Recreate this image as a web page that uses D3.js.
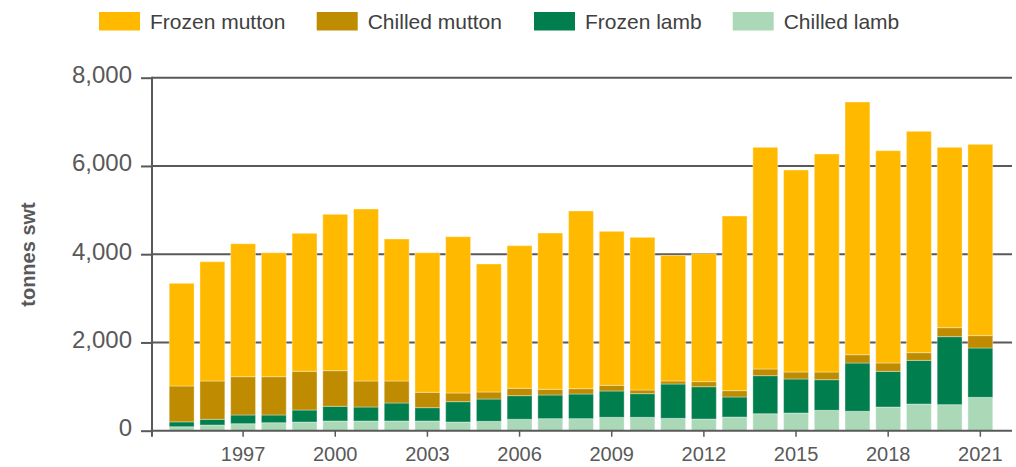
<!DOCTYPE html>
<html>
<head>
<meta charset="utf-8">
<script src="https://cdn.jsdelivr.net/npm/d3@7"></script>
<style>
  html, body { margin: 0; padding: 0; background: #fff; }
  svg { display: block; font-family: "Liberation Sans", Arial, sans-serif; }
</style>
</head>
<body>
<svg id="chart" width="1016" height="467"></svg>
<script>
const years = [1995,1996,1997,1998,1999,2000,2001,2002,2003,2004,2005,2006,2007,2008,2009,2010,2011,2012,2013,2014,2015,2016,2017,2018,2019,2020,2021];
const chilledLamb   = [90,129,159,181,197,220,220,220,220,197,212,258,273,273,303,303,280,265,310,385,401,462,440,537,605,590,756];
const frozenLamb    = [110,129,197,175,272,333,317,408,302,461,506,536,536,559,597,536,778,732,454,862,771,694,1094,808,989,1541,1118];
const chilledMutton = [813,868,868,868,876,807,589,498,348,196,159,166,128,120,128,83,68,114,143,151,158,174,188,189,174,204,280];
const frozenMutton  = [2327,2704,3014,2810,3128,3544,3898,3219,3164,3543,2901,3233,3543,4027,3490,3460,2849,2901,3959,5024,4578,4941,5727,4812,5017,4087,4336];
const seriesNames = ["Chilled lamb","Frozen lamb","Chilled mutton","Frozen mutton"];
const legendOrder = ["Frozen mutton","Chilled mutton","Frozen lamb","Chilled lamb"];
const colors = {"Frozen mutton":"#FFBA00","Chilled mutton":"#BF8B00","Frozen lamb":"#007E4E","Chilled lamb":"#ABD9B8"};
const yTicks = [0,2000,4000,6000,8000];
const xTickYears = [1997,2000,2003,2006,2009,2012,2015,2018,2021];
const yLabel = "tonnes swt";

(function () {
const rows = years.map((yr,i)=>({year:yr,"Chilled lamb":chilledLamb[i],"Frozen lamb":frozenLamb[i],"Chilled mutton":chilledMutton[i],"Frozen mutton":frozenMutton[i]}));
const stack = d3.stack().keys(seriesNames)(rows);

const svg = d3.select("#chart");
const pl = 152, pr = 1012, pt = 77.7, pb = 430.7;
const x = d3.scaleBand().domain(years).range([166.3, 995.7]).paddingInner(0.19).paddingOuter(0.095);
const y = d3.scaleLinear().domain([0,8000]).range([pb, pt]);
const gray = "#595959";

// gridlines
svg.append("g").selectAll("line").data(yTicks.filter(d=>d>0)).join("line")
  .attr("x1", pl).attr("x2", pr).attr("y1", d=>y(d)).attr("y2", d=>y(d))
  .attr("stroke", gray).attr("stroke-width", 2);

// bars
svg.append("g").selectAll("g").data(stack).join("g")
  .attr("fill", d=>colors[d.key])
  .selectAll("rect").data(d=>d).join("rect")
  .attr("x", d=>x(d.data.year)).attr("width", x.bandwidth())
  .attr("y", d=>y(d[1])).attr("height", d=>y(d[0])-y(d[1]))
  .attr("stroke", "#fff").attr("stroke-opacity", 0.35).attr("stroke-width", 1);

// y axis
const yAxis = d3.axisLeft(y).tickValues(yTicks).tickSize(11).tickPadding(9).tickFormat(d3.format(","));
const gy = svg.append("g").attr("transform", `translate(${pl},0)`).call(yAxis);
gy.select(".domain").remove();
gy.selectAll(".tick line").attr("stroke", gray).attr("stroke-width", 2);
gy.selectAll(".tick text").attr("fill", gray).attr("font-size", 24).attr("dy", "0.2em")
  .style("font-family", "'Liberation Sans', Arial, sans-serif");
svg.append("line").attr("x1", pl).attr("x2", pl).attr("y1", pt-1).attr("y2", pb+6)
  .attr("stroke", gray).attr("stroke-width", 2);

// x axis
const xAxis = d3.axisBottom(x).tickValues(xTickYears).tickSize(6).tickPadding(10).tickSizeOuter(0);
const gx = svg.append("g").attr("transform", `translate(0,${pb})`).call(xAxis);
gx.select(".domain").remove();
gx.selectAll(".tick line").attr("stroke", gray).attr("stroke-width", 1.5);
gx.selectAll(".tick text").attr("fill", gray).attr("font-size", 20)
  .style("font-family", "'Liberation Sans', Arial, sans-serif");
svg.append("line").attr("x1", pl).attr("x2", pr).attr("y1", pb).attr("y2", pb)
  .attr("stroke", gray).attr("stroke-width", 2);

// y label
svg.append("text").attr("transform", `translate(35,254.5) rotate(-90)`)
  .attr("text-anchor", "middle").attr("font-size", 20).attr("font-weight", "bold")
  .attr("fill", gray).text(yLabel);

// legend
const legendX = [99, 316.7, 534, 732.7];
const lg = svg.append("g").selectAll("g").data(legendOrder).join("g")
  .attr("transform", (d,i)=>`translate(${legendX[i]},12)`);
lg.append("rect").attr("width", 41).attr("height", 18.5).attr("fill", d=>colors[d]);
lg.append("text").attr("x", 51).attr("y", 17).attr("font-size", 21).attr("fill", "#404040").text(d=>d);
})();
</script>
</body>
</html>
